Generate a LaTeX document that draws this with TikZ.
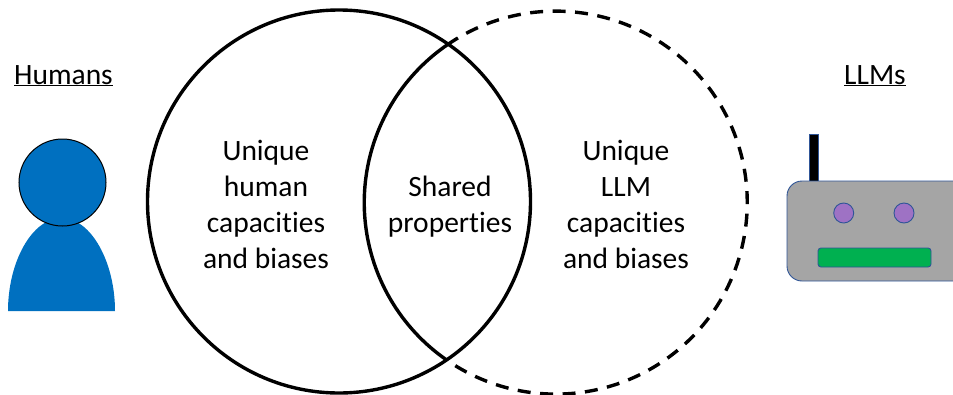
\documentclass[tikz,border=0pt]{standalone}
\usepackage{fontspec}
\setmainfont[Ligatures=CommonOff]{Carlito}
\definecolor{humanblue}{HTML}{0070C0}
\definecolor{robotgray}{HTML}{A5A5A5}
\definecolor{robotedge}{HTML}{2F5597}
\definecolor{eyepurple}{HTML}{9E72C4}
\definecolor{mouthgreen}{HTML}{00B050}
\tikzset{
  vennlabel/.style={align=center,font=\fontsize{29.5}{36}\selectfont,inner sep=0pt},
  headlabel/.style={font=\fontsize{29.5}{30}\selectfont,inner sep=0pt,anchor=base},
  ringline/.style={draw=black,line width=3.4pt},
  dashring/.style={draw=black,line width=3.4pt,dash pattern=on 13pt off 9.5pt},
  robotpart/.style={draw=robotedge,line width=0.9pt}
}
\begin{document}
\begin{tikzpicture}[x=1pt,y=-1pt]
\useasboundingbox (0,0) rectangle (953,394);
% right dashed arc and inner solid arc of the right circle
\coordinate (topcross) at (447,45);
\draw[dashring] (topcross) arc[start angle=124.6,end angle=-124.6,radius=191.5pt];
\draw[ringline] (topcross) arc[start angle=124.6,end angle=235.4,radius=191.5pt];
% left circle
\node[circle,ringline,minimum size=383pt,inner sep=0pt] (leftring) at (339,201.5) {};
% labels
\node[vennlabel] (hum) at (266,204) {Unique\\human\\capacities\\and biases};
\node[vennlabel] (sha) at (450,206.5) {Shared\\properties};
\node[vennlabel] (llm) at (626,204) {Unique\\LLM\\capacities\\and biases};
\node[headlabel] (hhead) at (63.5,84) {\underline{Humans}};
\node[headlabel] (lhead) at (875,84) {\underline{LLMs}};
% person
\fill[humanblue] (8,311) .. controls (8,262) and (32,218) .. (61.5,218) .. controls (91,218) and (115,262) .. (115,311) -- cycle;
\node[circle,draw=black,line width=1pt,fill=humanblue,minimum size=87pt,inner sep=0pt] (head) at (62.5,182.5) {};
% robot
\begin{scope}
\clip (0,0) rectangle (953,394);
\draw[robotpart,fill=black] (809,134) rectangle (818,181);
\draw[robotpart,fill=robotgray,rounded corners=15pt] (787,181) rectangle (975,281);
\end{scope}
\node[circle,robotpart,fill=eyepurple,minimum size=20pt,inner sep=0pt] (eyeL) at (843.7,213) {};
\node[circle,robotpart,fill=eyepurple,minimum size=20pt,inner sep=0pt] (eyeR) at (904,213) {};
\draw[robotpart,fill=mouthgreen,rounded corners=3pt] (818,248) rectangle (931,267);
\end{tikzpicture}
\end{document}
